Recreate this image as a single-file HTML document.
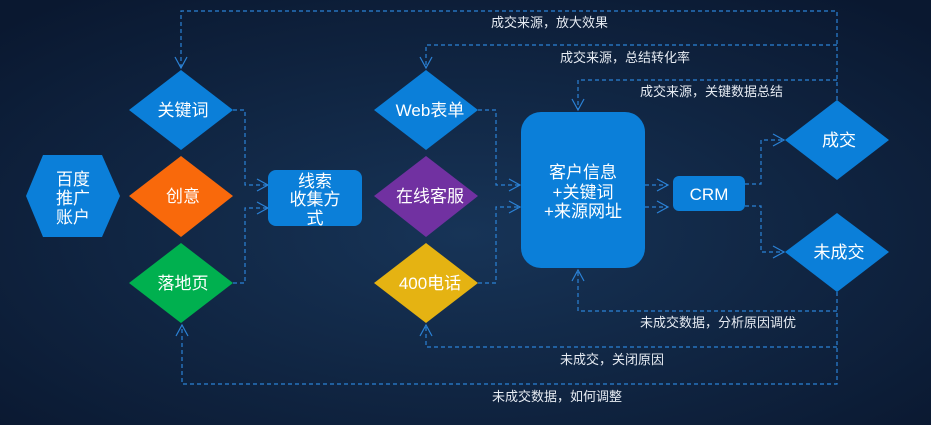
<!DOCTYPE html>
<html><head><meta charset="utf-8"><style>
html,body{margin:0;padding:0;width:931px;height:425px;overflow:hidden;background:#0b1a33}
svg{display:block}
text{font-family:"Liberation Sans","Noto Sans CJK SC",sans-serif;fill:#fff}
.l{font-size:13px;fill:#e6ebf2}
.n{font-size:17px}
</style></head><body>
<svg width="931" height="425" viewBox="0 0 931 425">
<defs>
<radialGradient id="bg" cx="0.5" cy="0.55" r="0.7">
<stop offset="0" stop-color="#173457"/><stop offset="1" stop-color="#0a1830"/>
</radialGradient>
<marker id="a" markerWidth="14" markerHeight="14" refX="12" refY="7" orient="auto" markerUnits="userSpaceOnUse">
<polyline points="1,1 12,7 1,13" fill="none" stroke="#2b82d6" stroke-width="1.2"/>
</marker>
</defs>
<rect width="931" height="425" fill="url(#bg)"/>
<g fill="none" stroke="#2b82d6" stroke-width="1.2" stroke-dasharray="4,3">
<polyline points="233,110 245,110 245,185 268,185" marker-end="url(#a)"/>
<polyline points="233,283 245,283 245,208 268,208" marker-end="url(#a)"/>
<polyline points="478,110 496,110 496,185 520,185" marker-end="url(#a)"/>
<polyline points="478,283 496,283 496,207 520,207" marker-end="url(#a)"/>
<polyline points="645,185 668,185" marker-end="url(#a)"/>
<polyline points="645,207 668,207" marker-end="url(#a)"/>
<polyline points="745,184 761,184 761,140 784,140" marker-end="url(#a)"/>
<polyline points="745,206 761,206 761,252 784,252" marker-end="url(#a)"/>
<polyline points="837,100 837,11 181,11 181,68" marker-end="url(#a)"/>
<polyline points="837,45 426,45 426,68" marker-end="url(#a)"/>
<polyline points="837,80 578,80 578,110" marker-end="url(#a)"/>
<polyline points="837,292 837,384 182,384 182,325" marker-end="url(#a)"/>
<polyline points="837,347 426,347 426,325" marker-end="url(#a)"/>
<polyline points="837,311 578,311 578,270" marker-end="url(#a)"/>
</g>
<polygon points="26,196 43,155 102,155 120,196 102,237 43,237" fill="#0b7fd9"/>
<text x="73" y="185" text-anchor="middle" class="n">百度</text>
<text x="73" y="204" text-anchor="middle" class="n">推广</text>
<text x="73" y="223" text-anchor="middle" class="n">账户</text>
<polygon points="129,110 181,70 233,110 181,150" fill="#0b7fd9"/>
<text x="183" y="116" text-anchor="middle" class="n">关键词</text>
<polygon points="129,196 181,156 233,196 181,237" fill="#f9690b"/>
<text x="183" y="202" text-anchor="middle" class="n">创意</text>
<polygon points="129,283 181,243 233,283 181,323" fill="#00b04f"/>
<text x="183" y="289" text-anchor="middle" class="n">落地页</text>
<rect x="268" y="170" width="94" height="56" rx="8" fill="#0b7fd9"/>
<text x="315" y="187" text-anchor="middle" class="n">线索</text>
<text x="315" y="205" text-anchor="middle" class="n">收集方</text>
<text x="315" y="224" text-anchor="middle" class="n">式</text>
<polygon points="374,110 426,70 478,110 426,150" fill="#0b7fd9"/>
<text x="430" y="116" text-anchor="middle" class="n">Web表单</text>
<polygon points="374,196 426,156 478,196 426,237" fill="#7131a1"/>
<text x="430" y="202" text-anchor="middle" class="n">在线客服</text>
<polygon points="374,283 426,243 478,283 426,323" fill="#e5b312"/>
<text x="430" y="289" text-anchor="middle" class="n">400电话</text>
<rect x="521" y="112" width="124" height="156" rx="20" fill="#0b7fd9"/>
<text x="583" y="178" text-anchor="middle" class="n">客户信息</text>
<text x="583" y="198" text-anchor="middle" class="n">+关键词</text>
<text x="583" y="217" text-anchor="middle" class="n">+来源网址</text>
<rect x="673" y="176" width="72" height="35" rx="6" fill="#0b7fd9"/>
<text x="709" y="200" text-anchor="middle" class="n">CRM</text>
<polygon points="785,140 837,100 889,140 837,180" fill="#0b7fd9"/>
<text x="839" y="146" text-anchor="middle" class="n">成交</text>
<polygon points="785,252 837,213 889,252 837,292" fill="#0b7fd9"/>
<text x="839" y="258" text-anchor="middle" class="n">未成交</text>
<text x="491" y="27" class="l">成交来源，放大效果</text>
<text x="560" y="62" class="l">成交来源，总结转化率</text>
<text x="640" y="96" class="l">成交来源，关键数据总结</text>
<text x="640" y="327" class="l">未成交数据，分析原因调优</text>
<text x="560" y="364" class="l">未成交，关闭原因</text>
<text x="492" y="401" class="l">未成交数据，如何调整</text>
</svg>
</body></html>
